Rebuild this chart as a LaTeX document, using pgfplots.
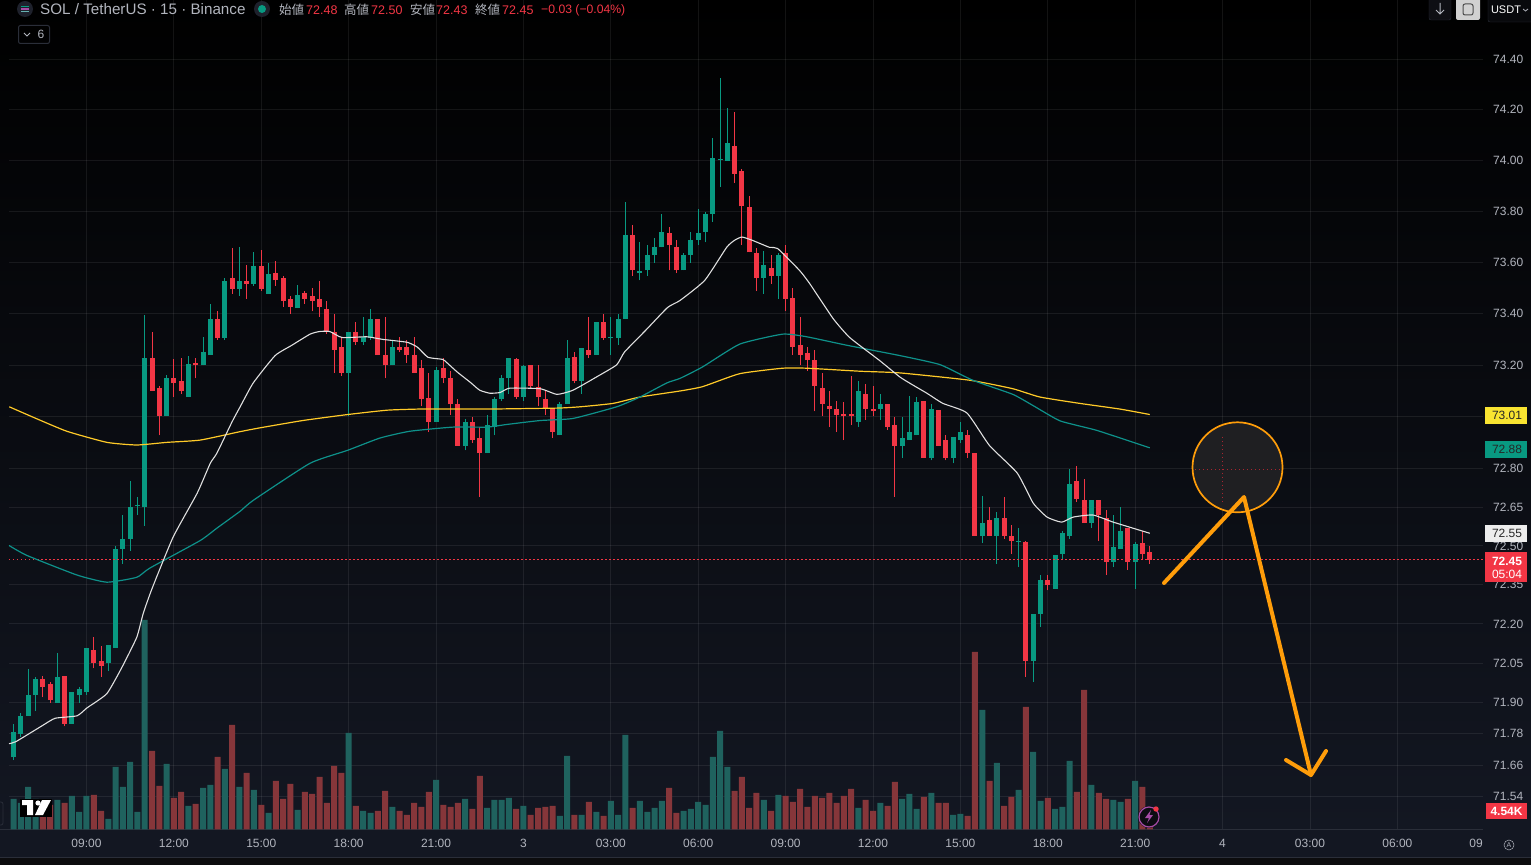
\documentclass[border=0pt]{standalone}
\usepackage{pgfplots}
\usepackage{pgfplotstable}
\pgfplotsset{compat=1.18}
\usepackage{fontspec}
\setmainfont{Liberation Sans}
\newfontfamily\cjk{Noto Sans CJK JP}
\definecolor{cg}{HTML}{089981}
\definecolor{cr}{HTML}{F23645}
\definecolor{vg}{HTML}{1F625E}
\definecolor{vr}{HTML}{86363A}
\definecolor{txt}{HTML}{B2B5BE}
\definecolor{ylw}{HTML}{FFCA28}
\definecolor{tagy}{HTML}{F9E431}
\definecolor{teal2}{HTML}{0E918A}
\definecolor{org}{HTML}{FF9D0A}
\definecolor{edge}{HTML}{2A2E39}
\definecolor{bgb}{HTML}{131722}
% i open high low close volume(K)
\pgfplotstableread{
i o h l c v
0 71.69 71.82 71.68 71.79 7.25
1 71.78 71.86 71.77 71.85 6.30
2 71.85 72.03 71.85 71.93 10.12
3 71.93 72.00 71.87 71.99 7.25
6 71.90 72.09 71.90 72.00 7.01
8 71.82 71.94 71.82 71.94 7.97
9 71.93 71.96 71.90 71.95 4.14
10 71.94 72.11 71.93 72.11 7.97
13 72.05 72.12 72.02 72.12 2.47
14 72.11 72.50 72.11 72.49 14.90
15 72.49 72.62 72.43 72.53 10.12
16 72.53 72.75 72.48 72.65 16.10
17 72.656 72.69 72.62 72.66 4.14
18 72.65 73.40 72.58 73.23 50.05
21 73.00 73.16 73.00 73.15 15.62
24 73.08 73.24 73.08 73.21 5.58
26 73.20 73.31 73.20 73.25 9.88
27 73.24 73.44 73.24 73.38 10.60
29 73.31 73.54 73.30 73.53 14.43
31 73.50 73.66 73.47 73.53 10.12
33 73.52 73.64 73.51 73.59 9.40
35 73.48 73.60 73.48 73.56 3.91
39 73.42 73.51 73.42 73.47 4.62
46 73.17 73.33 73.00 73.33 23.03
48 73.29 73.39 73.28 73.31 4.38
49 73.31 73.42 73.30 73.38 3.91
52 73.20 73.30 73.20 73.27 5.34
58 72.98 73.19 72.98 73.18 11.80
62 72.89 72.99 72.87 72.98 7.25
65 72.86 73.01 72.86 72.97 5.10
66 72.96 73.08 72.93 73.07 7.01
67 73.07 73.16 73.06 73.15 7.01
68 73.15 73.23 73.09 73.23 7.49
70 73.08 73.20 73.06 73.20 5.58
75 72.93 73.06 72.93 73.05 3.19
76 73.05 73.30 73.05 73.23 17.53
78 73.14 73.27 73.09 73.27 3.43
80 73.24 73.37 73.24 73.37 4.14
82 73.306 73.39 73.24 73.31 6.77
83 73.31 73.40 73.28 73.38 3.43
84 73.38 73.84 73.38 73.71 22.56
86 73.56 73.68 73.53 73.57 6.77
87 73.57 73.67 73.55 73.63 4.14
88 73.63 73.70 73.60 73.66 5.10
89 73.66 73.79 73.66 73.72 6.77
92 73.57 73.64 73.57 73.63 4.38
93 73.63 73.72 73.60 73.69 4.86
94 73.69 73.81 73.67 73.72 6.54
95 73.72 73.80 73.68 73.79 5.82
96 73.79 74.09 73.76 74.01 17.29
97 74.006 74.33 73.90 74.01 23.51
98 74.00 74.21 74.00 74.07 14.90
103 73.54 73.65 73.48 73.59 7.01
105 73.55 73.64 73.46 73.63 8.21
116 72.98 73.14 72.96 73.10 5.10
119 73.03 73.09 72.99 73.05 6.30
122 72.89 73.00 72.84 72.92 7.25
123 72.91 73.08 72.91 72.94 8.45
124 72.93 73.08 72.93 73.06 4.86
126 72.84 73.05 72.83 73.03 8.69
129 72.84 72.92 72.82 72.92 3.43
130 72.91 72.98 72.90 72.94 3.67
133 72.54 72.69 72.51 72.59 28.53
135 72.54 72.63 72.43 72.61 15.86
138 72.516 72.57 72.42 72.52 9.40
140 72.06 72.24 71.98 72.24 18.49
141 72.24 72.39 72.19 72.37 6.77
143 72.34 72.47 72.34 72.47 4.86
144 72.47 72.56 72.45 72.55 5.34
145 72.54 72.80 72.53 72.74 16.34
148 72.59 72.68 72.57 72.68 10.60
151 72.44 72.62 72.42 72.50 7.01
152 72.49 72.65 72.49 72.56 6.54
154 72.44 72.52 72.34 72.51 11.56
}\upT
\pgfplotstableread{
i o h l c v
4 71.99 72.00 71.92 71.96 3.19
5 71.97 71.98 71.90 71.91 5.82
7 72.00 72.00 71.81 71.82 6.30
11 72.10 72.15 72.03 72.05 8.21
12 72.06 72.12 72.00 72.04 4.38
19 73.23 73.33 73.10 73.10 18.73
20 73.11 73.12 72.93 73.00 10.36
22 73.15 73.23 73.08 73.13 7.49
23 73.14 73.23 73.09 73.10 8.93
25 73.21 73.23 73.15 73.20 6.06
28 73.38 73.41 73.30 73.31 17.29
30 73.54 73.66 73.48 73.50 24.95
32 73.53 73.59 73.46 73.52 13.47
34 73.59 73.65 73.49 73.50 5.82
36 73.56 73.61 73.51 73.53 11.56
37 73.54 73.55 73.43 73.45 7.25
38 73.46 73.47 73.40 73.43 10.84
40 73.48 73.49 73.44 73.46 8.93
41 73.47 73.50 73.41 73.45 8.45
42 73.46 73.53 73.39 73.43 12.51
43 73.42 73.45 73.32 73.33 6.30
44 73.33 73.40 73.17 73.26 15.14
45 73.27 73.31 73.16 73.17 13.47
47 73.33 73.37 73.28 73.29 5.58
50 73.38 73.38 73.24 73.24 4.38
51 73.24 73.39 73.15 73.20 9.17
53 73.27 73.31 73.25 73.26 4.38
54 73.27 73.30 73.21 73.24 3.43
55 73.24 73.31 73.17 73.17 6.30
56 73.19 73.22 73.04 73.07 5.34
57 73.07 73.17 72.94 72.98 8.93
59 73.19 73.23 73.13 73.15 5.82
60 73.15 73.18 73.01 73.05 5.34
61 73.05 73.07 72.89 72.89 6.30
63 72.98 73.00 72.90 72.91 4.86
64 72.92 72.96 72.69 72.86 12.75
69 73.23 73.23 73.07 73.08 4.86
71 73.20 73.20 73.11 73.12 3.43
72 73.12 73.20 73.04 73.08 5.10
73 73.07 73.10 73.01 73.03 5.34
74 73.03 73.03 72.92 72.94 5.58
77 73.23 73.25 73.13 73.14 3.43
79 73.26 73.39 73.23 73.24 6.54
81 73.37 73.40 73.30 73.31 3.19
85 73.71 73.75 73.55 73.57 5.10
90 73.72 73.74 73.57 73.67 9.88
91 73.66 73.69 73.56 73.57 3.91
99 74.06 74.19 73.91 73.95 9.17
100 73.96 73.97 73.67 73.82 12.51
101 73.82 73.86 73.64 73.64 5.10
102 73.64 73.66 73.49 73.54 8.69
104 73.58 73.63 73.52 73.55 4.38
106 73.64 73.67 73.41 73.46 7.97
107 73.46 73.50 73.24 73.27 6.54
108 73.28 73.39 73.20 73.24 9.64
109 73.25 73.27 73.18 73.22 5.34
110 73.22 73.26 73.02 73.12 7.97
111 73.11 73.17 73.00 73.05 7.49
112 73.04 73.10 72.96 73.03 8.69
113 73.03 73.06 72.94 73.01 6.30
114 73.01 73.06 72.91 73.00 7.97
115 73.01 73.16 72.97 73.00 9.64
117 73.09 73.13 72.99 73.03 7.01
118 73.03 73.12 73.00 73.02 4.38
120 73.05 73.05 72.95 72.96 5.58
121 72.97 73.00 72.69 72.89 11.32
125 73.06 73.06 72.84 72.84 7.73
127 73.03 73.03 72.89 72.89 6.30
128 72.91 72.93 72.83 72.84 6.30
131 72.93 72.95 72.84 72.86 3.19
132 72.86 72.86 72.54 72.54 42.40
134 72.60 72.65 72.54 72.54 11.56
136 72.61 72.69 72.53 72.54 5.58
137 72.54 72.58 72.47 72.52 7.73
139 72.52 72.52 72.00 72.06 29.25
142 72.37 72.39 72.33 72.35 7.49
146 72.75 72.81 72.67 72.68 8.93
147 72.68 72.76 72.59 72.59 33.31
149 72.68 72.68 72.52 72.62 8.69
150 72.61 72.64 72.39 72.44 7.25
153 72.57 72.57 72.41 72.44 7.25
155 72.51 72.56 72.45 72.47 10.12
156 72.48 72.50 72.43 72.45 4.54
}\downT
% the price scale is logarithmic: plotted y = 18820*ln(price/74.40)
\newcommand{\logp}[1]{18820*ln(#1/74.4)}
\pgfplotsset{
  pane/.style={scale only axis, width=1474pt, height=829.3pt,
    at={(9pt,35.7pt)}, anchor=south west, xmin=-0.64, xmax=201.76},
  wick/.style={draw=none, mark=none, forget plot, error bars/.cd, y dir=plus, y explicit,
    error mark=none, error bar style={draw=#1, line width=1pt, solid}},
  body/.style={draw=none, mark=none, forget plot, error bars/.cd, y dir=plus, y explicit,
    error mark=none, error bar style={draw=#1, line width=5pt, solid}},
}
\begin{document}
\begin{tikzpicture}[x=1pt,y=1pt]
\useasboundingbox (0,0) rectangle (1531,865);
\clip (0,0) rectangle (1531,865);
\shade[top color=black, bottom color=bgb] (0,35) rectangle (1531,865);
\fill[bgb] (0,0) rectangle (1531,36);
\fill[color={rgb,255:red,12;green,12;blue,14}] (0,0) rectangle (1531,8);
\draw[edge,line width=1pt] (0,8) -- (1531,8);
\draw[edge,line width=1pt] (0,35.7) -- (1483,35.7);

% grid, ticks and tick labels
\begin{axis}[pane, ymin=-770.3, ymax=59,
  axis line style={draw=none}, tick style={draw=none},
  grid=major, grid style={color=white, opacity=0.075, line width=0.8pt},
  xtick={10,22,34,46,58,70,82,94,106,118,130,142,154,166,178,190},
  xticklabels={09:00,12:00,15:00,18:00,21:00,3,03:00,06:00,09:00,12:00,15:00,18:00,21:00,4,03:00,06:00},
  xticklabel style={text=txt, font=\fontsize{12}{14}\selectfont, anchor=center, yshift=-14pt, inner sep=0pt},
  ytick={0,-50.66,-101.45,-152.4,-203.5,-254.7,-306,-357.5,-409.1,-448,-486.9,-525.8,-564.9,-604,-643.2,-674.7,-706.2,-737.7},
  yticklabels={74.40,74.20,74.00,73.80,73.60,73.40,73.20,73.00,72.80,72.65,72.50,72.35,72.20,72.05,71.90,71.78,71.66,71.54},
  yticklabel pos=right, minor ytick={},
  yticklabel style={text=txt, font=\fontsize{12}{14}\selectfont, anchor=west, xshift=10pt, inner sep=0pt},
]
\addplot[draw=none, forget plot] coordinates {(0,-100) (1,-200)};
\end{axis}

% volume
\begin{axis}[pane, hide axis, ymin=0, ymax=198.2, ybar, bar width=6pt, bar shift=0pt]
\addplot[draw=none, fill=vg] table[x=i,y=v] {\upT};
\addplot[draw=none, fill=vr] table[x=i,y=v] {\downT};
\end{axis}

% price
\begin{axis}[pane, ymin=-770.3, ymax=59, hide axis]
\addplot[wick=cg] table[x=i,y expr=\logp{\thisrow{l}},y error plus expr=18820*ln(\thisrow{h}/\thisrow{l})] {\upT};
\addplot[wick=cr] table[x=i,y expr=\logp{\thisrow{l}},y error plus expr=18820*ln(\thisrow{h}/\thisrow{l})] {\downT};
\addplot[body=cg] table[x=i,y expr=\logp{\thisrow{o}},y error plus expr=18820*ln(\thisrow{c}/\thisrow{o})] {\upT};
\addplot[body=cr] table[x=i,y expr=\logp{\thisrow{c}},y error plus expr=18820*ln(\thisrow{o}/\thisrow{c})] {\downT};
% last price
\addplot[cr, line width=1pt, dash pattern=on 1.5pt off 2.5pt] table[x=i, y expr=\logp{\thisrow{p}}, row sep=\\] {i p\\ -0.64 72.45\\ 201.76 72.45\\};
% long average
\addplot[ylw, line width=1.2pt, smooth, tension=0.3] table[x=i, y expr=\logp{\thisrow{p}}, row sep=\\] {i p\\ -0.6 73.038\\ 2.65 72.999\\ 7.3 72.945\\ 12.8 72.902\\ 16.9 72.891\\ 21.05 72.902\\ 25.6 72.910\\ 31.1 72.941\\ 33.8 72.956\\ 39.7 72.987\\ 45.9 73.011\\ 51.3 73.026\\ 55.8 73.03\\ 61.3 73.03\\ 65.4 73.03\\ 74.6 73.034\\ 77.8 73.038\\ 82.3 73.053\\ 86 73.077\\ 91.5 73.10\\ 94.6 73.119\\ 99.7 73.166\\ 105.6 73.189\\ 108.9 73.189\\ 116.2 73.178\\ 121.7 73.17\\ 131.3 73.143\\ 137.2 73.108\\ 140.9 73.077\\ 146.4 73.053\\ 151.9 73.03\\ 156 73.01\\};
% middle average
\addplot[teal2, line width=1.2pt, smooth, tension=0.3] table[x=i, y expr=\logp{\thisrow{p}}, row sep=\\] {i p\\ -0.64 72.504\\ 1.83 72.465\\ 8.7 72.388\\ 12.8 72.361\\ 16.9 72.381\\ 18.7 72.415\\ 25.6 72.523\\ 27.9 72.569\\ 31.1 72.635\\ 32.9 72.677\\ 40.7 72.821\\ 45.8 72.871\\ 50.3 72.918\\ 54.4 72.945\\ 60.3 72.960\\ 65 72.960\\ 67.7 72.972\\ 72.3 72.987\\ 76.8 72.995\\ 82.8 73.038\\ 86 73.077\\ 89.7 73.131\\ 91.5 73.150\\ 94.6 73.193\\ 99.7 73.282\\ 105.6 73.321\\ 108.9 73.313\\ 114.4 73.278\\ 121.7 73.236\\ 127.2 73.205\\ 131.7 73.143\\ 137.2 73.088\\ 140 73.042\\ 143.7 72.984\\ 148.7 72.949\\ 156 72.88\\};
% short average
\addplot[white!88!black, line width=1.1pt, smooth, tension=0.3] table[x=i, y expr=\logp{\thisrow{p}}, row sep=\\] {i p\\ -0.64 71.744\\ 0.32 71.752\\ 3.9 71.813\\ 5.7 71.839\\ 8.7 71.851\\ 10.1 71.881\\ 12.8 71.935\\ 14.9 72.035\\ 16.9 72.15\\ 17.8 72.242\\ 19 72.338\\ 21.9 72.535\\ 25.2 72.704\\ 27 72.821\\ 27.9 72.859\\ 30 72.98\\ 31.1 73.038\\ 32.9 73.131\\ 35.9 73.236\\ 38.2 73.278\\ 40.7 73.321\\ 42 73.333\\ 43.4 73.333\\ 45.1 73.309\\ 48.5 73.313\\ 50.7 73.301\\ 54 73.29\\ 55.4 73.271\\ 56.9 73.232\\ 58.9 73.224\\ 59.5 73.212\\ 60.9 73.174\\ 62.7 73.135\\ 64 73.104\\ 65.4 73.092\\ 66.8 73.096\\ 68.1 73.112\\ 72.3 73.108\\ 74.6 73.088\\ 76.8 73.104\\ 80.1 73.158\\ 82.8 73.201\\ 83.9 73.251\\ 86.9 73.337\\ 89.8 73.426\\ 91.5 73.453\\ 94.9 73.531\\ 97.9 73.66\\ 99 73.69\\ 100 73.70\\ 101.4 73.69\\ 103.8 73.66\\ 104.9 73.656\\ 107.9 73.57\\ 109.3 73.519\\ 112.5 73.383\\ 114.8 73.309\\ 118.9 73.22\\ 121.7 73.154\\ 123.5 73.123\\ 125.4 73.092\\ 127.6 73.053\\ 130.9 73.015\\ 134 72.89\\ 137.8 72.782\\ 140 72.665\\ 141.9 72.612\\ 143.9 72.592\\ 145.5 72.612\\ 148.2 72.62\\ 151 72.592\\ 156 72.55\\};
\end{axis}

% annotations and interface, in reference pixels (y downwards)
\begin{scope}[yshift=865pt, y=-1pt]
\node[anchor=east, inner sep=0pt, text=txt, font=\fontsize{12}{14}\selectfont] at (1483,843) {09};
% drawn circle and arrows
\fill[color={rgb,255:red,31;green,31;blue,34}] (1237.5,467.3) circle (45);
\draw[cr!70!black, line width=0.8pt, dash pattern=on 1pt off 3pt] (1195,469) -- (1280,469);
\draw[cr!70!black, line width=0.8pt, dash pattern=on 1pt off 3pt] (1222.7,437) -- (1222.7,503);
\draw[org, line width=1.7pt] (1237.5,467.3) circle (45);
\draw[org, line width=4pt, line join=round, line cap=round] (1164,583) -- (1244,497) -- (1311,775);
\draw[org, line width=4pt, line join=round, line cap=round] (1286,760) -- (1311,775) -- (1326,751);
% price tags
\fill[tagy] (1485,407) rectangle (1527,424);
\node[text=black!85, font=\fontsize{12}{14}\selectfont] at (1507,415.5) {73.01};
\fill[cg] (1485,441) rectangle (1527,458);
\node[text=black!85, font=\fontsize{12}{14}\selectfont] at (1507,449.5) {72.88};
\fill[white!93!black] (1485,525) rectangle (1527,542);
\node[text=black!85, font=\fontsize{12}{14}\selectfont] at (1507,533.5) {72.55};
\fill[cr] (1485,552) rectangle (1527,582);
\node[text=white, font=\bfseries\fontsize{12}{14}\selectfont] at (1507,561) {72.45};
\node[text=white, font=\fontsize{12}{14}\selectfont] at (1507,574.5) {05:04};
\fill[cr] (1486,803) rectangle (1527,819);
\node[text=white, font=\bfseries\fontsize{12}{14}\selectfont] at (1506.5,811) {4.54K};
% header
\fill[color={rgb,255:red,30;green,33;blue,44}] (25,9) circle (8);
\fill[cg] (21,6) rectangle (29,7.5);
\fill[violet!70!white] (21,8.5) rectangle (29,10);
\fill[teal!60!white] (21,11) rectangle (29,12.5);
\node[anchor=west, inner sep=0pt, text=txt, font=\fontsize{15.2}{17}\selectfont] at (40,9.5) {SOL / TetherUS · 15 · Binance};
\fill[color={rgb,255:red,30;green,33;blue,44}] (262,9) circle (8);
\fill[cg] (262,9) circle (4);
\begin{scope}[every node/.style={anchor=west, inner sep=0pt}]
\node[text=txt, font=\cjk\fontsize{12.5}{14}\selectfont] at (279,10) {始値};
\node[text=cr, font=\fontsize{12.5}{15}\selectfont] at (306,10) {72.48};
\node[text=txt, font=\cjk\fontsize{12.5}{14}\selectfont] at (344,10) {高値};
\node[text=cr, font=\fontsize{12.5}{15}\selectfont] at (371,10) {72.50};
\node[text=txt, font=\cjk\fontsize{12.5}{14}\selectfont] at (410,10) {安値};
\node[text=cr, font=\fontsize{12.5}{15}\selectfont] at (436,10) {72.43};
\node[text=txt, font=\cjk\fontsize{12.5}{14}\selectfont] at (475,10) {終値};
\node[text=cr, font=\fontsize{12.5}{15}\selectfont] at (502,10) {72.45};
\node[text=cr, font=\fontsize{12.2}{15}\selectfont] at (541,10) {−0.03 (−0.04\%)};
\end{scope}
% collapse box
\draw[edge, line width=1pt, rounded corners=2pt] (18.5,25.5) rectangle (49.5,43.5);
\draw[txt, line width=1pt] (24,33) -- (27,36) -- (30,33);
\node[text=txt, font=\fontsize{12}{14}\selectfont] at (41,34.5) {6};
% top right buttons
\draw[edge, fill={rgb,255:red,14;green,15;blue,20}, rounded corners=2pt] (1429,-3) rectangle (1451,20);
\draw[txt, line width=1pt] (1440,3) -- (1440,14) (1436,10) -- (1440,14) -- (1444,10);
\fill[white!82!black, rounded corners=2pt] (1456,-3) rectangle (1480,20);
\draw[black!70, line width=1pt, rounded corners=2pt] (1463,4) rectangle (1473,15);
\draw[edge, fill={rgb,255:red,8;green,9;blue,12}, rounded corners=2pt] (1488,-3) rectangle (1533,22);
\node[text=white, font=\fontsize{11}{13}\selectfont] at (1506,10) {USDT};
\draw[txt, line width=0.8pt] (1523,9) -- (1525.5,11) -- (1528,9);
% auto button
\draw[txt, line width=0.5pt] (1509,845) circle (5);
\node[text=txt, font=\fontsize{7}{8}\selectfont] at (1509,845) {A};
% logo
\draw[edge, line width=0.8pt, rounded corners=2pt] (-4,802) rectangle (3,825);
\fill[black] (20,799) rectangle (52,817);
\fill[white] (22,800) -- (33,800) -- (33,815) -- (27,815) -- (27,805) -- (22,805) -- cycle;
\fill[white] (38,803) circle (2.6);
\fill[white] (42,800) -- (51,800) -- (43,815) -- (35,815) -- cycle;
% flash badge
\fill[color={rgb,255:red,12;green,12;blue,18}] (1149,817) circle (11);
\draw[violet!70!white, line width=1.2pt] (1149,817) circle (10);
\fill[violet!70!white] (1151,810) -- (1145,818) -- (1149,818) -- (1147,823) -- (1153,815) -- (1149.5,815) -- cycle;
\fill[cr] (1156,809) circle (2.7);
\end{scope}
\end{tikzpicture}
\end{document}
